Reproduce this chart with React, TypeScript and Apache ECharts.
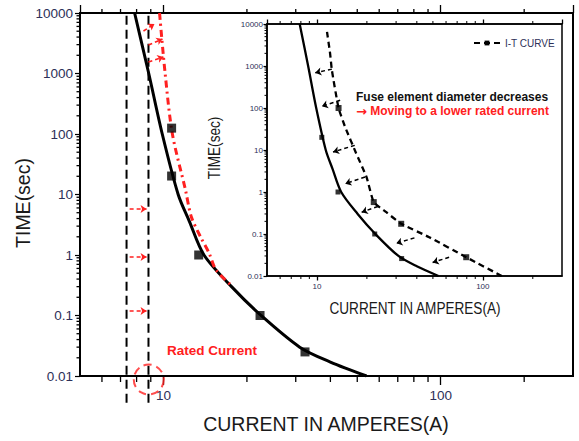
import React, { useEffect, useRef } from "react";
import * as echarts from "echarts";

// ---------- data ----------
const xMinorTicks = [6, 7, 8, 9, 20, 30, 40, 50, 60, 70, 80, 90, 200];
const yMinorTicks = [
  0.02, 0.03, 0.04, 0.05, 0.06, 0.07, 0.08, 0.09,
  0.2, 0.3, 0.4, 0.5, 0.6, 0.7, 0.8, 0.9,
  2, 3, 4, 5, 6, 7, 8, 9,
  20, 30, 40, 50, 60, 70, 80, 90,
  200, 300, 400, 500, 600, 700, 800, 900,
  2000, 3000, 4000, 5000, 6000, 7000, 8000, 9000,
];
const X_MIN = 5, X_MAX = 300, Y_MIN = 0.01, Y_MAX = 10000;

// main black I-T curve (current A, time s)
const blackCurve = [
  [7.87, 10000], [8.85, 1000], [9.9, 100], [11.3, 10], [12.4, 3.6], [14.0, 1],
  [17.6, 0.3], [22.5, 0.1], [31, 0.03], [40, 0.017], [54, 0.01],
];
// measured points (main)
const mainSquares = [[10.7, 125], [10.7, 20.2], [13.4, 1.0], [22.3, 0.1], [32.4, 0.025]];
// red dash-dot (shifted curve)
const redCurve = [
  [9.68, 10000], [10.14, 1000], [10.77, 100], [12.0, 12], [12.6, 4.3], [13.6, 2.0],
  [14.6, 1.08], [15.5, 0.56], [17.8, 0.3],
];
// rated-current dashed verticals
const ratedLines = [7.36, 8.83];
const ratedLineTimes = [0.0036, 10000];
// red arrows
const redArrows = [
  [[8.47, 5040], [9.28, 6580]],
  [[8.83, 2960], [9.92, 3720]],
  [[8.83, 1550], [10.0, 1875]],
  [[7.55, 5.75], [8.69, 5.75]],
  [[7.55, 0.93], [8.69, 0.93]],
  [[7.55, 0.119], [8.69, 0.119]],
];
const ratedCircle = [8.85, 0.01];

// inset
const insetDashed = [
  [11.5, 6500], [12.0, 2000], [12.3, 800], [13.5, 100], [14.8, 35], [17.2, 8.5],
  [19.9, 2.27], [22, 0.575], [26.2, 0.33], [32.2, 0.175], [47.5, 0.084], [79.4, 0.028], [130, 0.01],
];
const insetDashedMarks = [[13.5, 100], [22, 0.575], [32.2, 0.175], [79.4, 0.028]];
const insetSolidMarks = [[10.7, 20], [13.4, 1], [22.3, 0.1], [32.4, 0.026]];
const insetArrows = [
  [[12.3, 843], [9.77, 689]],
  [[13.8, 153], [10.7, 110]],
  [[16.9, 12.9], [12.5, 8.96]],
  [[19.5, 2.27], [14.8, 1.58]],
  [[23.3, 0.453], [18.6, 0.33]],
  [[38.7, 0.081], [30.1, 0.06]],
  [[62.6, 0.028], [49.8, 0.021]],
];

const FONT = "'Liberation Sans', Arial, sans-serif";
const LABEL_COLOR = "#2d3058";
const RED = "#ff2020";

const MAIN = { left: 80, top: 13, width: 493, height: 363 };
const INSET = { left: 267, top: 24, width: 295, height: 252 };

const fmt = (v: number) => String(Number(Number(v).toPrecision(6)));

function xAxisDef(grid: number, pos: "top" | "bottom", len: number, labels: boolean, lw: number, fs: number, margin: number) {
  return {
    type: "log", logBase: 10, min: X_MIN, max: X_MAX, gridIndex: grid, position: pos,
    axisLine: { show: true, onZero: false, lineStyle: { color: "#000", width: lw } },
    axisTick: { show: true, inside: false, length: len, lineStyle: { color: "#000", width: 1.3 } },
    axisLabel: labels
      ? { show: true, formatter: fmt, color: LABEL_COLOR, fontSize: fs, fontFamily: FONT, margin, showMinLabel: false, showMaxLabel: false }
      : { show: false },
    splitLine: { show: false },
    minorTick: { show: false },
  };
}
function yAxisDef(grid: number, len: number, lw: number, fs: number, margin: number) {
  return {
    type: "log", logBase: 10, min: Y_MIN, max: Y_MAX, gridIndex: grid, position: "left",
    axisLine: { show: true, onZero: false, lineStyle: { color: "#000", width: lw } },
    axisTick: { show: true, inside: false, length: len, lineStyle: { color: "#000", width: 1.2 } },
    axisLabel: { show: true, formatter: fmt, color: LABEL_COLOR, fontSize: fs, fontFamily: FONT, margin },
    splitLine: { show: false },
    minorTick: { show: false },
  };
}

const textGraphics: any[] = [
  { type: "text", z: 100, x: 326, y: 424, style: { text: "CURRENT IN AMPERES(A)", fontSize: 19.5, fontFamily: FONT, fill: "#1a1a1a", align: "center", verticalAlign: "middle", textAlign: "center", textVerticalAlign: "middle" } },
  { type: "text", z: 100, x: 23, y: 203, rotation: Math.PI / 2, style: { text: "TIME(sec)", fontSize: 19.5, fontFamily: FONT, fill: "#1a1a1a", align: "center", verticalAlign: "middle", textAlign: "center", textVerticalAlign: "middle" } },
  { type: "text", z: 100, x: 415, y: 308, scaleX: 0.8, style: { text: "CURRENT IN AMPERES(A)", fontSize: 17, fontFamily: FONT, fill: "#1a1a1a", align: "center", verticalAlign: "middle", textAlign: "center", textVerticalAlign: "middle" } },
  { type: "text", z: 100, x: 214, y: 148, scaleX: 0.8, rotation: Math.PI / 2, style: { text: "TIME(sec)", fontSize: 17, fontFamily: FONT, fill: "#1a1a1a", align: "center", verticalAlign: "middle", textAlign: "center", textVerticalAlign: "middle" } },
  { type: "text", z: 100, x: 356, y: 97, style: { text: "Fuse element diameter decreases", fontSize: 12, fontWeight: "bold", fontFamily: FONT, fill: "#111", align: "left", verticalAlign: "middle", textAlign: "left", textVerticalAlign: "middle" } },
  {
    type: "text", z: 100, x: 356, y: 111,
    style: {
      text: "{a|→} Moving to a lower rated current", fontSize: 12, fontWeight: "bold", fontFamily: FONT, fill: RED,
      align: "left", verticalAlign: "middle", textAlign: "left", textVerticalAlign: "middle",
      rich: { a: { fontFamily: "'DejaVu Sans'", fontSize: 13, fontWeight: "bold", fill: RED, color: RED } },
    },
  },
  { type: "text", z: 100, x: 167, y: 350, style: { text: "Rated Current", fontSize: 13.5, fontWeight: "bold", fontFamily: FONT, fill: RED, align: "left", verticalAlign: "middle", textAlign: "left", textVerticalAlign: "middle" } },
];

export default function App() {
  const ref = useRef<HTMLDivElement>(null);
  useEffect(() => {
    document.body.style.margin = "0";
    if (!ref.current) return;
    const chart = echarts.init(ref.current, undefined, { renderer: "svg" });
    const series: any[] = [
      {
        name: "main", type: "line", xAxisIndex: 0, yAxisIndex: 0, data: blackCurve, smooth: 0.3,
        showSymbol: false, symbol: "none", lineStyle: { color: "#000", width: 3 }, z: 4,
      },
      {
        name: "insetSolid", type: "line", xAxisIndex: 2, yAxisIndex: 1, data: blackCurve, smooth: 0.3,
        showSymbol: false, symbol: "none", lineStyle: { color: "#000", width: 2.3 }, z: 4,
      },
      ...ratedLines.map((x, i) => ({
        name: "rated" + i, type: "line", xAxisIndex: 0, yAxisIndex: 0, clip: false, silent: true,
        data: ratedLineTimes.map((t) => [x, t]), showSymbol: false, symbol: "none",
        lineStyle: { color: "#000", width: 2, type: [9, 5] }, z: 3,
      })),
      {
        name: "shifted", type: "line", xAxisIndex: 0, yAxisIndex: 0, data: redCurve, smooth: 0.3,
        showSymbol: false, symbol: "none", lineStyle: { color: RED, width: 3, type: [7, 4, 2, 4] }, z: 5,
      },
      {
        name: "mainPts", type: "scatter", xAxisIndex: 0, yAxisIndex: 0, data: mainSquares,
        symbol: "rect", symbolSize: 9, itemStyle: { color: "#000" }, z: 6,
      },
      {
        name: "redArrows", type: "lines", coordinateSystem: "cartesian2d", xAxisIndex: 0, yAxisIndex: 0,
        data: redArrows.map((c) => ({ coords: c })), symbol: ["none", "arrow"], symbolSize: 6,
        lineStyle: { color: RED, width: 1.6, type: [4, 3], opacity: 1 }, z: 6,
      },
      {
        name: "circle", type: "scatter", xAxisIndex: 0, yAxisIndex: 0, data: [ratedCircle], clip: false,
        symbol: "circle", symbolSize: 30, symbolOffset: [0, 3.5],
        itemStyle: { color: "rgba(0,0,0,0)", borderColor: RED, borderWidth: 2, borderType: [8, 5] }, z: 6,
      },
      {
        name: "I-T CURVE", type: "line", xAxisIndex: 2, yAxisIndex: 1, data: insetDashed, smooth: 0.15,
        showSymbol: false, symbol: "rect", symbolSize: 6, itemStyle: { color: "#000" },
        lineStyle: { color: "#000", width: 2.3, type: [6, 4] }, z: 4,
      },
      {
        name: "insetDashedPts", type: "scatter", xAxisIndex: 2, yAxisIndex: 1, data: insetDashedMarks,
        symbol: "rect", symbolSize: 6, itemStyle: { color: "#000" }, z: 5,
      },
      {
        name: "insetSolidPts", type: "scatter", xAxisIndex: 2, yAxisIndex: 1, data: insetSolidMarks,
        symbol: "rect", symbolSize: 5, itemStyle: { color: "#000" }, z: 5,
      },
      {
        name: "insetArrows", type: "lines", coordinateSystem: "cartesian2d", xAxisIndex: 2, yAxisIndex: 1,
        data: insetArrows.map((c) => ({ coords: c })), symbol: ["none", "arrow"], symbolSize: 6,
        lineStyle: { color: "#000", width: 1.5, type: [4, 3], opacity: 1 }, z: 6,
      },
    ];
    const option: any = {
      animation: false,
      backgroundColor: "#fff",
      grid: [
        { ...MAIN, show: true, borderColor: "#000", borderWidth: 2, backgroundColor: "transparent", outerBoundsMode: "none" },
        { ...INSET, show: true, borderColor: "#000", borderWidth: 1.5, backgroundColor: "#fff", outerBoundsMode: "none" },
      ],
      xAxis: [
        xAxisDef(0, "bottom", 9, true, 2, 13.5, 12),
        xAxisDef(0, "top", 8, false, 2, 13, 10),
        xAxisDef(1, "bottom", 4.5, true, 1.5, 8, 6),
        xAxisDef(1, "top", 4.5, false, 1.5, 8, 6),
      ],
      yAxis: [
        yAxisDef(0, 5, 2, 13.5, 7),
        yAxisDef(1, 3.5, 1.5, 8, 4),
      ],
      legend: {
        data: ["I-T CURVE"],
        left: 468, top: 33, itemWidth: 26, itemHeight: 6, itemGap: 4,
        textStyle: { fontSize: 10, color: LABEL_COLOR, fontFamily: FONT },
      },
      series,
      graphic: textGraphics,
    };
    chart.setOption(option);

    // minor ticks: small filled rects placed with the series' own coordinate systems
    const tickRects: any[] = [];
    const addTicks = (seriesIndex: number, down: number, up: number, left: number, lw: number) => {
      const conv = (pt: number[]): number[] | null => {
        try {
          const r = chart.convertToPixel({ seriesIndex } as any, pt) as any;
          return Array.isArray(r) && isFinite(r[0]) && isFinite(r[1]) ? r : null;
        } catch (e) {
          return null;
        }
      };
      xMinorTicks.forEach((v) => {
        const b = conv([v, Y_MIN]);
        const t = conv([v, Y_MAX]);
        if (b) tickRects.push({ type: "rect", z: 90, silent: true, shape: { x: b[0] - lw / 2, y: b[1], width: lw, height: down }, style: { fill: "#000" } });
        if (t) tickRects.push({ type: "rect", z: 90, silent: true, shape: { x: t[0] - lw / 2, y: t[1] - up, width: lw, height: up }, style: { fill: "#000" } });
      });
      yMinorTicks.forEach((v) => {
        const p = conv([X_MIN, v]);
        if (p) tickRects.push({ type: "rect", z: 90, silent: true, shape: { x: p[0] - left, y: p[1] - lw / 2, width: left, height: lw }, style: { fill: "#000" } });
      });
    };
    addTicks(0, 6, 4, 3.5, 1.3);
    addTicks(1, 3, 3, 2.5, 1);
    if (tickRects.length) {
      chart.setOption({ graphic: [...textGraphics, ...tickRects] });
    }

    return () => chart.dispose();
  }, []);
  return <div ref={ref} style={{ width: 579, height: 441 }} />;
}
